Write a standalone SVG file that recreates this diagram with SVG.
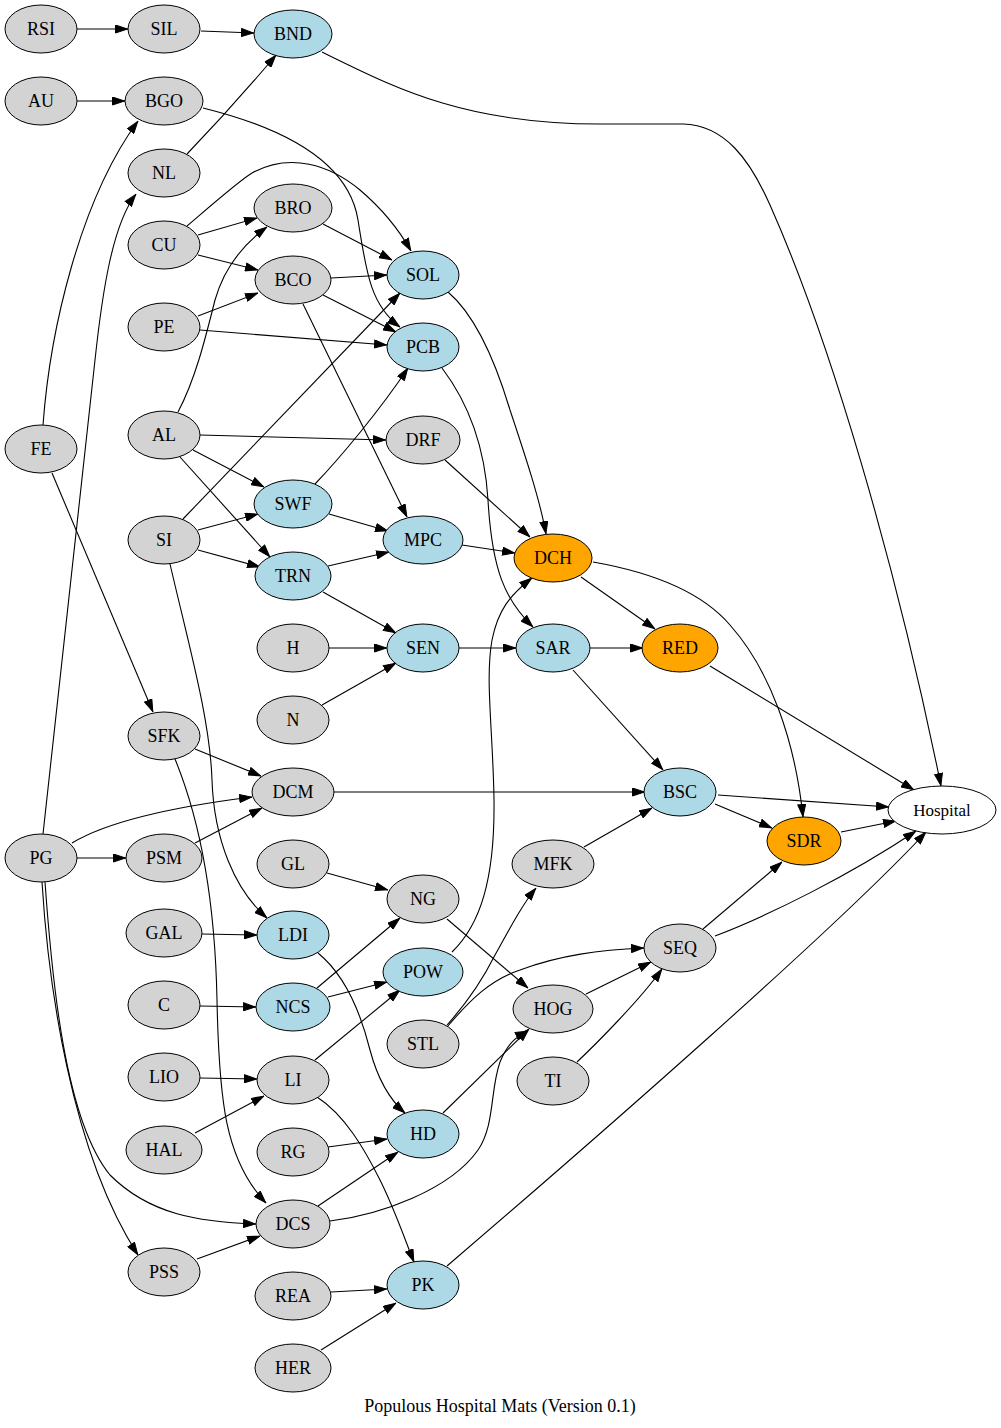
<svg xmlns="http://www.w3.org/2000/svg" width="1001" height="1428" viewBox="0 0 1001 1428">
<style>
text{font-family:"Liberation Serif","Times New Roman",serif;font-size:18px;text-anchor:middle;fill:#000}
.n ellipse{stroke:#000;stroke-width:1}
.g ellipse{fill:#d3d3d3}
.b ellipse{fill:#add8e6}
.o ellipse{fill:#ffa500}
.w ellipse{fill:#fff}
#edges path{fill:none;stroke:#000;stroke-width:1.1;marker-end:url(#ah)}
</style>
<defs>
<marker id="ah" markerUnits="userSpaceOnUse" markerWidth="13" markerHeight="9" viewBox="0 0 13 9" refX="13" refY="4.5" orient="auto">
<path d="M0.5,0.5 L12.5,4.5 L0.5,8.5 z" fill="#000" stroke="#000" stroke-width="1"/>
</marker>
</defs>
<rect width="1001" height="1428" fill="#fff"/>
<g id="edges">
<path d="M77,29 L128,29"/>
<path d="M201,31 L254,33"/>
<path d="M77,101 L125,101"/>
<path d="M187,154 C213,127 250,86 276,55"/>
<path d="M43,425 C50,330 80,200 138,121"/>
<path d="M43,834 L95,360 C102,295 112,225 136,194"/>
<path d="M203,108 C300,132 350,170 358,220 C366,270 370,305 400,327"/>
<path d="M187,226 C207,209 240,180 252,173 C290,152 330,165 360,190 C380,207 398,228 411,251"/>
<path d="M198,235 L257,218"/>
<path d="M198,255 L258,270"/>
<path d="M178,412 C195,380 205,340 215,300 C225,265 245,243 267,227"/>
<path d="M323,224 L392,260"/>
<path d="M331,278 L387,275"/>
<path d="M323,295 L396,332"/>
<path d="M303,304 L407,517"/>
<path d="M198,316 L258,293"/>
<path d="M200,330 L387,345"/>
<path d="M183,519 L400,293"/>
<path d="M315,484 C340,458 380,410 408,368"/>
<path d="M200,435 L386,440"/>
<path d="M193,450 L264,487"/>
<path d="M180,457 L270,557"/>
<path d="M198,530 L258,514"/>
<path d="M198,550 L260,567"/>
<path d="M170,564 C190,650 210,720 212,780 C214,840 235,890 267,918"/>
<path d="M329,514 L388,531"/>
<path d="M328,566 L389,552"/>
<path d="M323,592 L396,633"/>
<path d="M329,648 L387,648"/>
<path d="M322,705 L396,663"/>
<path d="M462,545 L515,553"/>
<path d="M445,460 L530,537"/>
<path d="M448,292 C475,315 495,360 510,410 C525,455 540,500 546,534"/>
<path d="M442,368 C470,405 485,450 488,500 C492,570 505,600 533,627"/>
<path d="M452,952 C480,925 495,880 494,800 C493,730 485,680 492,640 C498,610 510,595 532,578"/>
<path d="M459,648 L516,648"/>
<path d="M581,577 L655,629"/>
<path d="M593,562 C650,572 700,590 730,625 C770,670 795,740 803,817"/>
<path d="M590,648 L643,648"/>
<path d="M573,670 L663,770"/>
<path d="M710,666 L914,790"/>
<path d="M322,52 C390,85 460,124 600,124 L683,124 C725,125 750,160 770,205 C830,340 895,560 941,786"/>
<path d="M718,795 L889,807"/>
<path d="M715,804 L772,828"/>
<path d="M841,832 L896,821"/>
<path d="M703,929 L782,862"/>
<path d="M715,936 C770,915 850,875 916,831"/>
<path d="M447,1266 C600,1135 840,925 926,832"/>
<path d="M52,473 L153,712"/>
<path d="M195,749 L261,776"/>
<path d="M175,759 C200,820 215,900 217,1000 C219,1100 225,1160 266,1203"/>
<path d="M72,843 C110,820 180,806 252,797"/>
<path d="M77,858 L126,858"/>
<path d="M195,843 L262,808"/>
<path d="M334,792 L645,792"/>
<path d="M327,873 L388,890"/>
<path d="M202,934 L257,935"/>
<path d="M200,1006 L256,1007"/>
<path d="M317,988 L400,918"/>
<path d="M328,997 L387,982"/>
<path d="M447,919 L528,988"/>
<path d="M318,953 C345,975 360,1010 370,1050 C378,1080 390,1100 405,1113"/>
<path d="M584,847 L652,808"/>
<path d="M447,1025 C465,1005 480,985 495,955 C510,928 522,905 536,888"/>
<path d="M447,1027 C470,1000 490,980 520,970 C560,955 600,950 644,948"/>
<path d="M586,994 L651,962"/>
<path d="M577,1062 C595,1045 640,1000 662,969"/>
<path d="M200,1078 L257,1079"/>
<path d="M195,1133 L264,1096"/>
<path d="M315,1060 L400,990"/>
<path d="M317,1097 C345,1115 365,1150 380,1180 C395,1210 405,1240 414,1262"/>
<path d="M328,1147 L387,1139"/>
<path d="M443,1113 L529,1029"/>
<path d="M318,1206 L398,1152"/>
<path d="M330,1221 C380,1215 450,1190 478,1150 C495,1125 490,1090 500,1062 C507,1045 515,1037 528,1031"/>
<path d="M45,882 C52,980 65,1120 110,1175 C150,1215 200,1222 256,1224"/>
<path d="M42,882 C48,980 70,1150 138,1255"/>
<path d="M197,1259 L260,1236"/>
<path d="M331,1292 L387,1289"/>
<path d="M321,1350 L396,1303"/>
</g>
<g id="RSI" class="n g"><ellipse cx="41" cy="29" rx="36" ry="24"/><text x="41" y="35">RSI</text></g>
<g id="AU" class="n g"><ellipse cx="41" cy="101" rx="36" ry="24"/><text x="41" y="107">AU</text></g>
<g id="FE" class="n g"><ellipse cx="41" cy="449" rx="36" ry="24"/><text x="41" y="455">FE</text></g>
<g id="PG" class="n g"><ellipse cx="41" cy="858" rx="36" ry="24"/><text x="41" y="864">PG</text></g>
<g id="SIL" class="n g"><ellipse cx="164" cy="29" rx="36" ry="24"/><text x="164" y="35">SIL</text></g>
<g id="BGO" class="n g"><ellipse cx="164" cy="101" rx="39" ry="24"/><text x="164" y="107">BGO</text></g>
<g id="NL" class="n g"><ellipse cx="164" cy="173" rx="36" ry="24"/><text x="164" y="179">NL</text></g>
<g id="CU" class="n g"><ellipse cx="164" cy="245" rx="36" ry="24"/><text x="164" y="251">CU</text></g>
<g id="PE" class="n g"><ellipse cx="164" cy="327" rx="36" ry="24"/><text x="164" y="333">PE</text></g>
<g id="AL" class="n g"><ellipse cx="164" cy="435" rx="36" ry="24"/><text x="164" y="441">AL</text></g>
<g id="SI" class="n g"><ellipse cx="164" cy="540" rx="36" ry="24"/><text x="164" y="546">SI</text></g>
<g id="SFK" class="n g"><ellipse cx="164" cy="736" rx="36" ry="24"/><text x="164" y="742">SFK</text></g>
<g id="PSM" class="n g"><ellipse cx="164" cy="858" rx="38" ry="24"/><text x="164" y="864">PSM</text></g>
<g id="GAL" class="n g"><ellipse cx="164" cy="933" rx="38" ry="24"/><text x="164" y="939">GAL</text></g>
<g id="C" class="n g"><ellipse cx="164" cy="1005" rx="36" ry="24"/><text x="164" y="1011">C</text></g>
<g id="LIO" class="n g"><ellipse cx="164" cy="1077" rx="36" ry="24"/><text x="164" y="1083">LIO</text></g>
<g id="HAL" class="n g"><ellipse cx="164" cy="1150" rx="38" ry="24"/><text x="164" y="1156">HAL</text></g>
<g id="PSS" class="n g"><ellipse cx="164" cy="1272" rx="36" ry="24"/><text x="164" y="1278">PSS</text></g>
<g id="BND" class="n b"><ellipse cx="293" cy="34" rx="39" ry="24"/><text x="293" y="40">BND</text></g>
<g id="BRO" class="n g"><ellipse cx="293" cy="208" rx="39" ry="24"/><text x="293" y="214">BRO</text></g>
<g id="BCO" class="n g"><ellipse cx="293" cy="280" rx="38" ry="24"/><text x="293" y="286">BCO</text></g>
<g id="SWF" class="n b"><ellipse cx="293" cy="504" rx="39" ry="24"/><text x="293" y="510">SWF</text></g>
<g id="TRN" class="n b"><ellipse cx="293" cy="576" rx="38" ry="24"/><text x="293" y="582">TRN</text></g>
<g id="H" class="n g"><ellipse cx="293" cy="648" rx="36" ry="24"/><text x="293" y="654">H</text></g>
<g id="N" class="n g"><ellipse cx="293" cy="720" rx="36" ry="24"/><text x="293" y="726">N</text></g>
<g id="DCM" class="n g"><ellipse cx="293" cy="792" rx="41" ry="24"/><text x="293" y="798">DCM</text></g>
<g id="GL" class="n g"><ellipse cx="293" cy="864" rx="36" ry="24"/><text x="293" y="870">GL</text></g>
<g id="LDI" class="n b"><ellipse cx="293" cy="935" rx="36" ry="24"/><text x="293" y="941">LDI</text></g>
<g id="NCS" class="n b"><ellipse cx="293" cy="1007" rx="37" ry="24"/><text x="293" y="1013">NCS</text></g>
<g id="LI" class="n g"><ellipse cx="293" cy="1080" rx="36" ry="24"/><text x="293" y="1086">LI</text></g>
<g id="RG" class="n g"><ellipse cx="293" cy="1152" rx="36" ry="24"/><text x="293" y="1158">RG</text></g>
<g id="DCS" class="n g"><ellipse cx="293" cy="1224" rx="37" ry="24"/><text x="293" y="1230">DCS</text></g>
<g id="REA" class="n g"><ellipse cx="293" cy="1296" rx="38" ry="24"/><text x="293" y="1302">REA</text></g>
<g id="HER" class="n g"><ellipse cx="293" cy="1368" rx="38" ry="24"/><text x="293" y="1374">HER</text></g>
<g id="SOL" class="n b"><ellipse cx="423" cy="275" rx="36" ry="24"/><text x="423" y="281">SOL</text></g>
<g id="PCB" class="n b"><ellipse cx="423" cy="347" rx="36" ry="24"/><text x="423" y="353">PCB</text></g>
<g id="DRF" class="n g"><ellipse cx="423" cy="440" rx="37" ry="24"/><text x="423" y="446">DRF</text></g>
<g id="MPC" class="n b"><ellipse cx="423" cy="540" rx="40" ry="24"/><text x="423" y="546">MPC</text></g>
<g id="SEN" class="n b"><ellipse cx="423" cy="648" rx="36" ry="24"/><text x="423" y="654">SEN</text></g>
<g id="NG" class="n g"><ellipse cx="423" cy="899" rx="36" ry="24"/><text x="423" y="905">NG</text></g>
<g id="POW" class="n b"><ellipse cx="423" cy="972" rx="40" ry="24"/><text x="423" y="978">POW</text></g>
<g id="STL" class="n g"><ellipse cx="423" cy="1044" rx="36" ry="24"/><text x="423" y="1050">STL</text></g>
<g id="HD" class="n b"><ellipse cx="423" cy="1134" rx="36" ry="24"/><text x="423" y="1140">HD</text></g>
<g id="PK" class="n b"><ellipse cx="423" cy="1285" rx="36" ry="24"/><text x="423" y="1291">PK</text></g>
<g id="DCH" class="n o"><ellipse cx="553" cy="558" rx="39" ry="24"/><text x="553" y="564">DCH</text></g>
<g id="SAR" class="n b"><ellipse cx="553" cy="648" rx="37" ry="24"/><text x="553" y="654">SAR</text></g>
<g id="MFK" class="n g"><ellipse cx="553" cy="864" rx="41" ry="24"/><text x="553" y="870">MFK</text></g>
<g id="HOG" class="n g"><ellipse cx="553" cy="1009" rx="40" ry="24"/><text x="553" y="1015">HOG</text></g>
<g id="TI" class="n g"><ellipse cx="553" cy="1081" rx="36" ry="24"/><text x="553" y="1087">TI</text></g>
<g id="RED" class="n o"><ellipse cx="680" cy="648" rx="38" ry="24"/><text x="680" y="654">RED</text></g>
<g id="BSC" class="n b"><ellipse cx="680" cy="792" rx="36" ry="24"/><text x="680" y="798">BSC</text></g>
<g id="SEQ" class="n g"><ellipse cx="680" cy="948" rx="36" ry="24"/><text x="680" y="954">SEQ</text></g>
<g id="SDR" class="n o"><ellipse cx="804" cy="841" rx="37" ry="24"/><text x="804" y="847">SDR</text></g>
<g id="Hospital" class="n w"><ellipse cx="942" cy="810" rx="54" ry="24"/><text x="942" y="816" style="font-size:17px">Hospital</text></g>
<text x="500" y="1412">Populous Hospital Mats (Version 0.1)</text>
</svg>
